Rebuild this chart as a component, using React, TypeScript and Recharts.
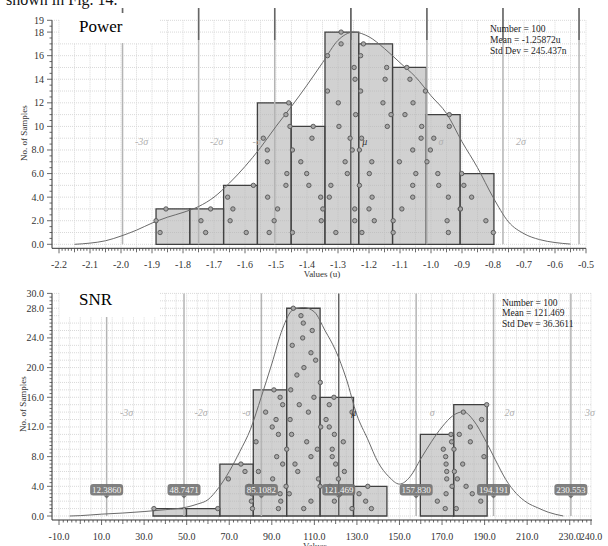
import React from 'react';
import {
  ComposedChart,
  XAxis,
  YAxis,
  CartesianGrid,
  ReferenceArea,
  ReferenceLine,
  ReferenceDot,
  Line,
  Scatter,
} from 'recharts';

// ---------------- Power histogram ----------------
const powerBinEdges = [-1.887, -1.778, -1.669, -1.56, -1.451, -1.342, -1.233, -1.124, -1.015, -0.906, -0.797];
const powerCounts = [3, 3, 5, 12, 10, 18, 17, 15, 11, 6];
// sample values per bin, listed from stack level 1 upward
const powerSamples = [
  [-1.874, -1.887, -1.855],
  [-1.727, -1.742, -1.711],
  [-1.596, -1.648, -1.639, -1.656, -1.573],
  [-1.522, -1.506, -1.495, -1.527, -1.468, -1.465, -1.528, -1.528, -1.541, -1.455, -1.468, -1.459],
  [-1.447, -1.354, -1.349, -1.356, -1.394, -1.401, -1.42, -1.447, -1.384, -1.38],
  [-1.307, -1.246, -1.246, -1.328, -1.323, -1.27, -1.277, -1.254, -1.261, -1.297, -1.243, -1.299, -1.334, -1.245, -1.248, -1.334, -1.29, -1.29],
  [-1.223, -1.183, -1.2, -1.19, -1.231, -1.199, -1.191, -1.231, -1.224, -1.141, -1.129, -1.155, -1.227, -1.148, -1.143, -1.227, -1.218],
  [-1.122, -1.122, -1.094, -1.059, -1.059, -1.049, -1.102, -1.059, -1.032, -1.03, -1.084, -1.058, -1.018, -1.068, -1.078],
  [-0.944, -0.948, -0.906, -0.944, -0.975, -0.978, -1.013, -1.002, -0.991, -0.941, -0.941],
  [-0.799, -0.823, -0.905, -0.869, -0.894, -0.901],
];
const powerCurveX = [-2.15, -2.1, -2.05, -2.0, -1.95, -1.9, -1.85, -1.8, -1.75, -1.7, -1.65, -1.6, -1.55, -1.5, -1.45, -1.4, -1.35, -1.3, -1.25, -1.2, -1.15, -1.1, -1.05, -1.0, -0.95, -0.9, -0.85, -0.8, -0.75, -0.7, -0.65, -0.6, -0.55];
const powerCurveY = [0, 0.1, 0.3, 0.7, 1.2, 1.8, 2.3, 2.7, 3.2, 4.0, 5.2, 6.6, 8.2, 10.0, 11.7, 13.5, 15.4, 17.3, 18.0, 17.6, 16.6, 15.4, 14.2, 12.6, 11.1, 8.7, 6.5, 4.0, 1.9, 0.9, 0.4, 0.15, 0.02];
const powerMean = -1.25872;
const powerStd = 0.245437;
const powerStats = ['Number = 100', 'Mean = -1.25872u', 'Std Dev = 245.437n'];
const powerXTicks = [-2.2, -2.1, -2.0, -1.9, -1.8, -1.7, -1.6, -1.5, -1.4, -1.3, -1.2, -1.1, -1.0, -0.9, -0.8, -0.7, -0.6, -0.5];
const powerYTicks = [0, 2, 4, 6, 8, 10, 12, 14, 16, 18, 19];

// ---------------- SNR histogram ----------------
const snrBinEdges = [34.2, 49.9, 65.6, 81.3, 97.0, 112.7, 128.4, 144.1, 159.8, 175.5, 191.2];
const snrCounts = [1, 1, 7, 17, 28, 16, 4, 0, 11, 15];
const snrSamples = [
  [34.6],
  [64.6],
  [80.9, 80.4, 80.6, 79.3, 69.6, 77.4, 75.5],
  [93.1, 94.2, 93.9, 96.7, 90.4, 83.7, 95.1, 92.3, 97.0, 82.6, 93.1, 90.2, 92.0, 87.1, 95.1, 93.9, 91.0],
  [105.0, 108.4, 98.2, 112.7, 111.9, 102.2, 100.9, 108.4, 111.4, 106.4, 99.3, 113.0, 98.6, 107.2, 102.9, 109.8, 98.9, 112.8, 101.8, 105.1, 110.6, 108.4, 99.6, 104.5, 109.0, 104.8, 103.7, 100.1],
  [127.7, 119.4, 122.0, 117.3, 121.3, 124.1, 120.0, 118.4, 118.4, 123.6, 119.4, 117.0, 115.5, 127.7, 117.0, 119.2],
  [136.8, 134.1, 131.0, 135.1],
  [],
  [171.5, 167.8, 171.9, 174.7, 172.2, 172.2, 171.9, 171.7, 170.6, 174.5, 174.2],
  [176.7, 188.2, 184.2, 181.3, 177.2, 175.8, 179.7, 189.7, 175.6, 183.3, 178.1, 183.3, 188.6, 180.0, 191.0],
];
const snrCurveX = [-5, 0, 10, 20, 30, 40, 50, 55, 60, 65, 70, 75, 80, 85, 90, 95, 100, 105, 110, 115, 120, 125, 130, 135, 140, 145, 150, 155, 160, 165, 170, 175, 180, 185, 190, 195, 200, 205, 210, 215, 220, 227];
const snrCurveY = [0, 0.05, 0.25, 0.4, 0.6, 0.85, 1.2, 1.6, 2.2, 3.8, 6.0, 8.7, 11.7, 16.0, 20.5, 25.2, 27.8, 28.1, 27.5, 25.0, 22.3, 18.5, 13.6, 10.4, 7.2, 5.3, 4.3, 5.3, 7.7, 10.0, 12.0, 13.5, 14.05, 12.8, 10.4, 7.6, 4.9, 3.0, 1.8, 1.1, 0.5, 0];
const snrMean = 121.469;
const snrStd = 36.3611;
const snrStats = ['Number = 100', 'Mean = 121.469', 'Std Dev = 36.3611'];
const snrCallouts = ['12.3860', '48.7471', '85.1082', '121.469', '157.830', '194.191', '230.553'];
const snrXTicks = [-10, 10, 30, 50, 70, 90, 110, 130, 150, 170, 190, 210, 230, 240];
const snrYTicks = [0, 4, 8, 12, 16, 20, 24, 28, 30];

const sigmaK = [-3, -2, -1, 0, 1, 2, 3];
const sigmaNames = ['-3σ', '-2σ', '-σ', 'μ', 'σ', '2σ', '3σ'];

const SERIF = '"Liberation Serif", "Times New Roman", serif';

function buildPoints(samples: number[][]) {
  const pts: { x: number; y: number }[] = [];
  samples.forEach((bin) => bin.forEach((v, i) => pts.push({ x: v, y: i + 1 })));
  return pts;
}
function buildCurve(xs: number[], ys: number[]) {
  return xs.map((x, i) => ({ x, y: ys[i] }));
}
function range(start: number, end: number, step: number) {
  const out: number[] = [];
  const n = Math.round((end - start) / step);
  for (let i = 0; i <= n; i++) out.push(+(start + i * step).toFixed(6));
  return out;
}
const near = (arr: number[], v: number) => arr.some((m) => Math.abs(m - v) < 1e-6);

function makeXTick(majors: number[], midStep: number, fmt: (v: number) => string, labelDy: number) {
  return (props: any) => {
    const { x, y, payload } = props;
    const v = payload.value;
    const major = near(majors, v);
    const mid = !major && Math.abs(v / midStep - Math.round(v / midStep)) < 1e-6;
    const len = major ? 5 : mid ? 4 : 2.5;
    return (
      <g>
        <line x1={x} x2={x} y1={y} y2={y + len} stroke="#444" strokeWidth={0.8} />
        {major && (
          <text x={x} y={y + labelDy} textAnchor="middle" fontSize={10} fill="#333" fontFamily={SERIF}>
            {fmt(v)}
          </text>
        )}
      </g>
    );
  };
}
function makeYTick(majors: number[], fmt: (v: number) => string) {
  return (props: any) => {
    const { x, y, payload } = props;
    const v = payload.value;
    const major = near(majors, v);
    const len = major ? 5 : 2.5;
    return (
      <g>
        <line x1={x} x2={x - len} y1={y} y2={y} stroke="#444" strokeWidth={0.8} />
        {major && (
          <text x={x - 8} y={y + 3.5} textAnchor="end" fontSize={10} fill="#333" fontFamily={SERIF}>
            {fmt(v)}
          </text>
        )}
      </g>
    );
  };
}

type HistProps = {
  edges: number[];
  counts: number[];
  samples: number[][];
  curve: { x: number; y: number }[];
  mean: number;
  std: number;
  xDomain: [number, number];
  yDomain: [number, number];
  xTicks: number[];
  xMinorStep: number;
  xMidStep: number;
  yTicks: number[];
  yMinorStep: number;
  xFmt: (v: number) => string;
  yFmt: (v: number) => string;
  height: number;
  margin: { top: number; right: number; bottom: number; left: number };
  xAxisHeight: number;
  gridXStep: number;
  gridYStep: number;
  lineTop: number;
  darkFrom: number | null;
  labelY: number;
  labelDx: number[];
  labelShown: boolean[];
  callouts: string[] | null;
  calloutY: number;
};

function Histogram(p: HistProps) {
  const points = buildPoints(p.samples);
  const xAll = range(p.xTicks[0], p.xTicks[p.xTicks.length - 1], p.xMinorStep);
  const yAll = range(p.yTicks[0], p.yTicks[p.yTicks.length - 1], p.yMinorStep);
  const gridX = range(p.xTicks[0], p.xTicks[p.xTicks.length - 1], p.gridXStep);
  const gridY = range(p.yTicks[0], p.yTicks[p.yTicks.length - 1], p.gridYStep);
  const sigmaVals = sigmaK.map((k) => p.mean + k * p.std);

  return (
    <ComposedChart width={608} height={p.height} margin={p.margin}>
      <CartesianGrid
        stroke="#d9d9d9"
        strokeDasharray="1 1"
        verticalValues={gridX}
        horizontalValues={gridY}
      />
      <XAxis
        type="number"
        dataKey="x"
        domain={p.xDomain}
        allowDataOverflow
        ticks={xAll}
        interval={0}
        tickSize={0}
        tickMargin={0}
        tickLine={false}
        height={p.xAxisHeight}
        axisLine={{ stroke: '#333', strokeWidth: 1 }}
        tick={makeXTick(p.xTicks, p.xMidStep, p.xFmt, 20)}
      />
      <YAxis
        type="number"
        dataKey="y"
        domain={p.yDomain}
        allowDataOverflow
        ticks={yAll}
        interval={0}
        tickSize={0}
        tickMargin={0}
        tickLine={false}
        width={52}
        axisLine={{ stroke: '#333', strokeWidth: 1 }}
        tick={makeYTick(p.yTicks, p.yFmt)}
      />
      {p.counts.map((c, i) =>
        c > 0 ? (
          <ReferenceArea
            key={'bar' + i}
            x1={p.edges[i]}
            x2={p.edges[i + 1]}
            y1={0}
            y2={c}
            fill="#b2b2b2"
            fillOpacity={0.6}
            stroke="#404040"
            strokeWidth={1.3}
            ifOverflow="visible"
          />
        ) : null
      )}
      {sigmaVals.map((v, i) => (
        <ReferenceLine
          key={'sl' + i}
          segment={[
            { x: v, y: 0 },
            { x: v, y: p.lineTop },
          ]}
          stroke={i === 3 ? '#505050' : '#b4b4b4'}
          strokeWidth={i === 3 ? 1.3 : 1.5}
          ifOverflow="visible"
        />
      ))}
      {p.darkFrom !== null &&
        sigmaVals.map((v, i) => (
          <ReferenceLine
            key={'sd' + i}
            segment={[
              { x: v, y: p.darkFrom as number },
              { x: v, y: p.lineTop },
            ]}
            stroke="#666"
            strokeWidth={1.5}
            ifOverflow="visible"
          />
        ))}
      <Line
        data={p.curve}
        dataKey="y"
        type="monotone"
        stroke="#6a6a6a"
        strokeWidth={1}
        dot={false}
        isAnimationActive={false}
      />
      <Scatter
        data={points}
        dataKey="y"
        isAnimationActive={false}
        shape={(s: any) => (
          <circle cx={s.cx} cy={s.cy} r={2.2} fill="#a6a6a6" stroke="#555" strokeWidth={0.9} />
        )}
      />
      {sigmaVals.map((v, i) =>
        p.labelShown[i] ? (
          <ReferenceDot
            key={'lab' + i}
            x={v}
            y={p.labelY}
            ifOverflow="visible"
            shape={(s: any) => (
              <text
                x={s.cx + p.labelDx[i]}
                y={s.cy + 3.5}
                textAnchor="middle"
                fontSize={10}
                fontStyle="italic"
                fill={i === 3 ? '#333' : '#b0b0b0'}
                fontFamily={SERIF}
              >
                {sigmaNames[i]}
              </text>
            )}
          />
        ) : null
      )}
      {p.callouts &&
        sigmaVals.map((v, i) => (
          <ReferenceDot
            key={'co' + i}
            x={v}
            y={p.calloutY}
            ifOverflow="visible"
            shape={(s: any) => (
              <g>
                <rect x={s.cx - 16.5} y={s.cy - 6} width={33} height={11.5} rx={3} fill="#727272" fillOpacity={0.9} />
                <path d={`M${s.cx - 3},${s.cy + 5.5} L${s.cx},${s.cy + 8.5} L${s.cx + 3},${s.cy + 5.5} Z`} fill="#727272" />
                <text x={s.cx} y={s.cy + 3.2} textAnchor="middle" fontSize={9} fill="#f4f4f4" fontFamily={SERIF}>
                  {(p.callouts as string[])[i]}
                </text>
              </g>
            )}
          />
        ))}
    </ComposedChart>
  );
}

const abs = (l: number, t: number): React.CSSProperties => ({ position: 'absolute', left: l, top: t });

export default function App() {
  return (
    <div style={{ position: 'absolute', left: 0, top: 0, width: 608, height: 546, overflow: 'hidden', background: '#fff', fontFamily: SERIF }}>
      {/* caption fragment from the page above */}
      <div style={{ ...abs(6, -8), fontSize: 16, lineHeight: '16px', whiteSpace: 'nowrap', color: '#111' }}>shown in Fig. 14.</div>

      {/* Power chart */}
      <div style={abs(0, 0)}>
        <Histogram
          edges={powerBinEdges}
          counts={powerCounts}
          samples={powerSamples}
          curve={buildCurve(powerCurveX, powerCurveY)}
          mean={powerMean}
          std={powerStd}
          xDomain={[-2.2226, -0.5]}
          yDomain={[-0.339, 19]}
          xTicks={powerXTicks}
          xMinorStep={0.01}
          xMidStep={0.05}
          yTicks={powerYTicks}
          yMinorStep={0.5}
          xFmt={(v) => v.toFixed(1)}
          yFmt={(v) => (v < 10 ? v.toFixed(1) : String(v))}
          height={280}
          margin={{ top: 20.3, right: 22, bottom: 1.7, left: 0 }}
          xAxisHeight={30}
          gridXStep={0.05}
          gridYStep={1}
          lineTop={20.04}
          darkFrom={17.33}
          labelY={8.76}
          labelDx={[19, 18, -18, 14, 14, 18, 16]}
          labelShown={[true, true, true, true, true, true, false]}
          callouts={null}
          calloutY={0}
        />
      </div>

      {/* SNR chart */}
      <div style={abs(0, 270)}>
        <Histogram
          edges={snrBinEdges}
          counts={snrCounts}
          samples={snrSamples}
          curve={buildCurve(snrCurveX, snrCurveY)}
          mean={snrMean}
          std={snrStd}
          xDomain={[-13.29, 240.47]}
          yDomain={[-0.539, 30]}
          xTicks={snrXTicks}
          xMinorStep={2}
          xMidStep={10}
          yTicks={snrYTicks}
          yMinorStep={0.5}
          xFmt={(v) => v.toFixed(1)}
          yFmt={(v) => v.toFixed(1)}
          height={276}
          margin={{ top: 23.4, right: 16, bottom: 0, left: 0 }}
          xAxisHeight={26}
          gridXStep={5}
          gridYStep={1}
          lineTop={30}
          darkFrom={null}
          labelY={13.96}
          labelDx={[20, 17, -15, 15, 16, 16, 19]}
          labelShown={[true, true, true, true, true, true, true]}
          callouts={snrCallouts}
          calloutY={3.5}
        />
      </div>

      {/* title boxes */}
      <div style={{ ...abs(60, 13), width: 100, height: 30, background: '#fff' }}>
        <div style={{ ...abs(19, 4), fontSize: 17, lineHeight: '20px' }}>Power</div>
      </div>
      <div style={{ ...abs(60, 286), width: 100, height: 31, background: '#fff' }}>
        <div style={{ ...abs(19, 4), fontSize: 17, lineHeight: '20px' }}>SNR</div>
      </div>

      {/* statistics */}
      <div style={{ ...abs(490, 24), fontSize: 9.5, lineHeight: '10.8px', color: '#222' }}>
        {powerStats.map((s) => (
          <div key={s} style={{ whiteSpace: 'nowrap' }}>{s}</div>
        ))}
      </div>
      <div style={{ ...abs(502, 298), fontSize: 9.5, lineHeight: '10.3px', color: '#222' }}>
        {snrStats.map((s) => (
          <div key={s} style={{ whiteSpace: 'nowrap' }}>{s}</div>
        ))}
      </div>

      {/* axis titles */}
      <div style={{ ...abs(24, 133), fontSize: 9, color: '#333', whiteSpace: 'nowrap', transform: 'translate(-50%, -50%) rotate(-90deg)' }}>No. of Samples</div>
      <div style={{ ...abs(23, 404), fontSize: 9, color: '#333', whiteSpace: 'nowrap', transform: 'translate(-50%, -50%) rotate(-90deg)' }}>No. of Samples</div>
      <div style={{ ...abs(322, 274), fontSize: 9, color: '#333', whiteSpace: 'nowrap', transform: 'translate(-50%, -50%)' }}>Values (u)</div>
      <div style={{ ...abs(315, 541), fontSize: 9, lineHeight: '10px', color: '#333', whiteSpace: 'nowrap', transform: 'translateX(-50%)' }}>Values</div>
    </div>
  );
}
